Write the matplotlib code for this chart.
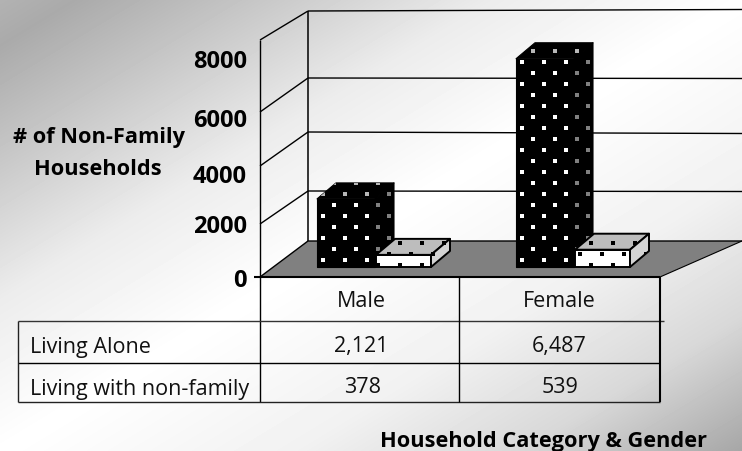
import numpy as np
import matplotlib
matplotlib.use("Agg")
import matplotlib.pyplot as plt
from matplotlib.patches import Polygon

# ---- data ----
categories = ["Male", "Female"]
series_names = ["Living Alone", "Living with non-family"]
living_alone = [2121, 6487]
living_with_nonfamily = [378, 539]
table_alone = ["2,121", "6,487"]
table_nonfamily = ["378", "539"]
y_ticks = [0, 2000, 4000, 6000, 8000]

W, H = 742, 451
fig = plt.figure(figsize=(W / 100, H / 100), dpi=100)
ax = fig.add_axes([0, 0, 1, 1])
ax.set_xlim(0, W)
ax.set_ylim(H, 0)
ax.axis("off")

# background: diagonal gray-white-gray gradient
yy, xx = np.mgrid[0:H, 0:W]
t = (xx / W + yy / H) / 2
stops = [0, .05, .17, .33, .5, .7, .85, 1]
grays = [0xb2, 0xaa, 0xc6, 0xec, 0xff, 0xf1, 0xd8, 0xa6]
ax.imshow(np.interp(t, stops, grays), cmap="gray", vmin=0, vmax=255,
          extent=[0, W, H, 0], aspect="auto", zorder=0, interpolation="bilinear")

FRONT_X, BACK_X, RIGHT_X = 260, 308, 742
FLOOR_FRONT, FLOOR_BACK = 277, 241
BAR_K = 0.0321       # px per unit on the bars
BAR_BASE = 267
DX, DY = 19, 16
TABLE_R = 660
GRID_FRONT = [224, 166, 112, 40]
GRID_BACK = [191, 132, 78, 11]
GRID_END = [191.5, 133.5, 78.5, 9.5]


def line(xs, ys, lw=1.0, color="black", z=2):
    ax.plot(xs, ys, color=color, lw=lw, solid_capstyle="butt", zorder=z)


# walls and grid
for yf, yb, ye in zip(GRID_FRONT, GRID_BACK, GRID_END):
    line([FRONT_X, BACK_X], [yf, yb], 1.0)
    line([BACK_X, RIGHT_X], [yb, ye], 1.0)
line([FRONT_X, FRONT_X], [GRID_FRONT[-1], 402], 1.0)
line([BACK_X, BACK_X], [GRID_BACK[-1], FLOOR_BACK], 1.1)

# floor
ax.add_patch(Polygon([(FRONT_X, FLOOR_FRONT), (BACK_X, FLOOR_BACK), (RIGHT_X, FLOOR_BACK),
                      (TABLE_R, FLOOR_FRONT)], closed=True, fc="#808080", ec="none", zorder=3))
line([FRONT_X, BACK_X, RIGHT_X], [FLOOR_FRONT, FLOOR_BACK, FLOOR_BACK], 1.0, z=3.1)
line([TABLE_R, RIGHT_X], [FLOOR_FRONT, FLOOR_BACK], 0.8, z=3.1)
line([254, TABLE_R], [FLOOR_FRONT, FLOOR_FRONT], 1.5, z=3.2)


def dots(x_anchor, y_anchor, colors, faces, z):
    """staggered square-dot pattern clipped to each bar face"""
    rows = []
    for j in range(-1, 14):
        for i in range(-2, 9):
            rows.append((x_anchor + 22 * i, y_anchor - 22 * j))
            rows.append((x_anchor + 11 + 22 * i, y_anchor - 11 - 22 * j))
    rows = np.array(rows)
    for face, c in zip(faces, colors):
        poly = Polygon(face, closed=True, transform=ax.transData)
        sc = ax.scatter(rows[:, 0], rows[:, 1], s=4.8, marker="s", c=c, linewidths=0, zorder=z)
        sc.set_clip_path(poly)


def bar3d(left, width, value, fill, top, side, edge, lw, dotc, anchor, z):
    h = value * BAR_K
    r = left + width
    yt = BAR_BASE - h
    front = [(left, BAR_BASE), (r, BAR_BASE), (r, yt), (left, yt)]
    topf = [(left, yt), (r, yt), (r + DX, yt - DY), (left + DX, yt - DY)]
    sidef = [(r, BAR_BASE), (r + DX, BAR_BASE - DY), (r + DX, yt - DY), (r, yt)]
    ax.add_patch(Polygon(front, closed=True, fc=fill, ec=edge, lw=lw, zorder=z, joinstyle="round"))
    ax.add_patch(Polygon(topf, closed=True, fc=top, ec=edge, lw=lw, zorder=z, joinstyle="round"))
    ax.add_patch(Polygon(sidef, closed=True, fc=side, ec=edge, lw=lw, zorder=z, joinstyle="round"))
    dots(anchor[0], anchor[1], dotc, [front, topf, sidef], z + 0.1)


BAR_LEFTS = [317, 516]
NF_LEFTS = [376, 575]
NF_ANCHORS = [(378, 265), (591, 265)]
for i in range(2):
    bar3d(BAR_LEFTS[i], 58, living_alone[i], "black", "black", "black", "black", 0.8,
          ["white", "#b8b8b8", "#808080"], (BAR_LEFTS[i] + 6, 260), 4 + i)
    bar3d(NF_LEFTS[i], 55, living_with_nonfamily[i], "white", "#bdbdbd", "#d4d4d4", "black", 1.4,
          ["black", "black", "black"], NF_ANCHORS[i], 4.5 + i)

# table grid
TL, COL2 = 17.5, 458.5
R1, R2, R3 = 321, 363, 402
line([TL, TABLE_R + 4], [R1, R1], 1.0, color="#333333")
line([TL, TABLE_R], [R2, R2], 1.0)
line([TL, TABLE_R], [R3, R3], 1.0, color="#222222")
line([TL, TL], [R1, R3], 1.0, color="#222222")
line([COL2, COL2], [FLOOR_FRONT, R3], 1.0)
line([TABLE_R, TABLE_R], [FLOOR_FRONT, R3], 1.5)

REG = "Open Sans"
FS = 15.5
FSB = 15.7
FST = 17
COLX = [361.5, 559]
kw = dict(va="baseline", family=REG, fontsize=FS, color="#111111")
for i in range(2):
    ax.text(COLX[i], 307, categories[i], ha="center", **kw)
    ax.text(COLX[i], 352, table_alone[i], ha="center", **kw)
    ax.text(COLX[i] + 1, 393, table_nonfamily[i], ha="center", **kw)
ax.text(30, 353, series_names[0], ha="left", **kw)
ax.text(30, 395, series_names[1], ha="left", **kw)

TICK_BASE = [287, 233, 183, 127, 68]
for v, yp in zip(y_ticks, TICK_BASE):
    ax.text(247, yp, str(v), ha="right", va="baseline", family=REG, fontweight="bold", fontsize=FST, color="black")

kwb = dict(ha="center", va="baseline", family=REG, fontweight="bold", fontsize=FSB, color="black")
ax.text(99, 143, "# of Non-Family", **kwb)
ax.text(98, 175, "Households", **kwb)
ax.text(543, 447, "Household Category & Gender", **kwb)

fig.savefig("out.png", dpi=100)
